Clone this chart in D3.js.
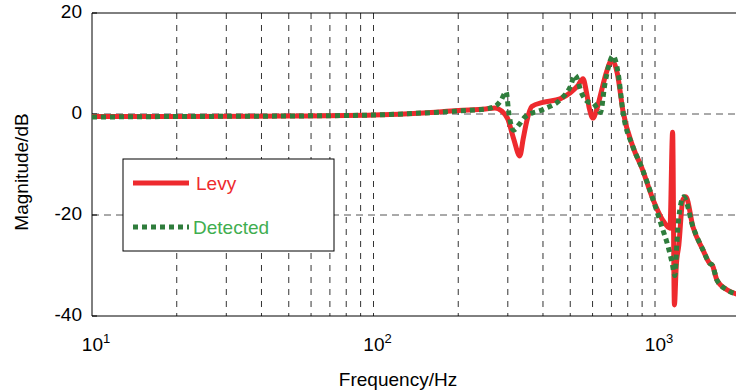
<!DOCTYPE html>
<html lang="en">

<head>
    <meta charset="UTF-8">
    <title>Levy vs Detected</title>
    <script src='https://d3js.org/d3.v7.min.js'></script>
    <style>
        body { margin: 0; background: white; }
        text { font-family: "Liberation Sans", Arial, sans-serif; }
    </style>
</head>

<body>
    <div id="chart"></div>

    <script>
        // frequency (Hz) and magnitude (dB)
        const levyFreq = [10, 20, 50, 100, 150, 200, 250, 270, 285, 300, 315, 331, 340, 350, 365, 400, 460, 500, 530, 555, 570, 585, 602, 620, 645, 670, 703, 735, 770, 835, 900, 985, 1065, 1130, 1155, 1172, 1190, 1215, 1256, 1287, 1365, 1480, 1560, 1600, 1660, 1800, 2000];
        const levyMag = [-0.5, -0.5, -0.4, -0.2, 0.2, 0.7, 1.0, 1.2, 0.6, -1.0, -5, -8.3, -5, -1.5, 1.5, 2.3, 3.0, 4.2, 5.5, 7.0, 4.5, 1.0, -0.8, 0.8, 4.5, 8.0, 10.7, 8.0, 0.5, -6.5, -10.8, -17, -21, -22.6, -3.6, -37.8, -30, -26, -17, -16.4, -22.4, -26.9, -29.5, -30.0, -32.9, -34.8, -35.8];

        const detFreq = [10, 20, 50, 100, 150, 200, 250, 270, 283, 296, 302, 307, 314, 330, 345, 400, 460, 500, 520, 550, 578, 602, 625, 640, 664, 710, 740, 770, 835, 900, 985, 1060, 1110, 1150, 1177, 1195, 1212, 1264, 1365, 1480, 1560, 1600, 1660, 1800, 2000];
        const detMag = [-0.6, -0.5, -0.4, -0.2, 0.2, 0.6, 1.0, 1.5, 2.6, 4.4, 0.5, -1.8, -3.2, -2.0, -0.6, 0.9, 2.8, 5.4, 7.7, 4.0, 2.4, 2.2, 1.0, 0.3, 6.0, 11.5, 8.0, 0.3, -6.5, -10.8, -17, -22.5, -26, -29.5, -32, -26, -21, -16.4, -22.4, -26.9, -29.5, -30.0, -32.9, -34.8, -35.8];

        const yTicks = [20, 0, -20, -40];
        const yGrid = [0, -20];
        const xDecades = [10, 100, 1000];
        const xGrid = [20, 30, 40, 50, 60, 70, 80, 90, 100, 200, 300, 400, 500, 600, 700, 800, 900, 1000];
        const seriesNames = ["Levy", "Detected"];

        var width = 736;
        var height = 392;
        var plotLeft = 92, plotTop = 13, plotBottom = 316;

        const svg = d3.select("#chart").append("svg")
            .attr("width", width)
            .attr("height", height);

        // log x axis; the right part of the plot is cut off by the picture
        const x = d3.scaleLog().domain([10, 2000]).range([plotLeft, plotLeft + 281.5 * Math.log10(200)]);
        const y = d3.scaleLinear().domain([-40, 20]).range([plotBottom, plotTop]);

        // grid lines
        svg.append("g").selectAll("line").data(xGrid).join("line")
            .attr("x1", d => x(d)).attr("x2", d => x(d))
            .attr("y1", plotTop).attr("y2", plotBottom)
            .attr("stroke", "#333").attr("stroke-dasharray", "6,6");
        svg.append("g").selectAll("line").data(yGrid).join("line")
            .attr("x1", plotLeft).attr("x2", width)
            .attr("y1", d => y(d)).attr("y2", d => y(d))
            .attr("stroke", "#555").attr("stroke-dasharray", "7,5");

        // axes frame
        svg.append("line").attr("x1", plotLeft).attr("x2", plotLeft).attr("y1", plotTop).attr("y2", plotBottom).attr("stroke", "black");
        svg.append("line").attr("x1", plotLeft).attr("x2", width).attr("y1", plotBottom).attr("y2", plotBottom).attr("stroke", "black");
        svg.append("line").attr("x1", plotLeft).attr("x2", width).attr("y1", plotTop).attr("y2", plotTop).attr("stroke", "black");

        // y ticks + labels
        svg.append("g").selectAll("line").data(yTicks).join("line")
            .attr("x1", plotLeft).attr("x2", plotLeft + 5)
            .attr("y1", d => y(d)).attr("y2", d => y(d))
            .attr("stroke", "black");
        svg.append("g").selectAll("text").data(yTicks).join("text")
            .attr("x", plotLeft - 10).attr("y", d => y(d) + 5)
            .attr("text-anchor", "end")
            .attr("font-size", 19)
            .text(d => d);

        // x labels as 10^n
        const xl = svg.append("g").selectAll("text").data(xDecades).join("text")
            .attr("x", d => x(d) + 4).attr("y", 351)
            .attr("text-anchor", "middle")
            .attr("font-size", 19);
        xl.append("tspan").text("10");
        xl.append("tspan").attr("font-size", 13).attr("dy", -8).text(d => Math.round(Math.log10(d)));

        // axis titles
        svg.append("text")
            .attr("x", 398).attr("y", 386)
            .attr("text-anchor", "middle")
            .attr("font-size", 19)
            .text("Frequency/Hz");
        svg.append("text")
            .attr("transform", "translate(28,172) rotate(-90)")
            .attr("text-anchor", "middle")
            .attr("font-size", 19)
            .text("Magnitude/dB");

        // curves
        const line = d3.line()
            .x(d => x(d[0]))
            .y(d => y(d[1]))
            .curve(d3.curveMonotoneX);

        svg.append("path")
            .attr("d", line(d3.zip(levyFreq, levyMag)))
            .attr("fill", "none")
            .attr("stroke", "#ee2a2e")
            .attr("stroke-width", 5)
            .attr("stroke-linejoin", "round");

        svg.append("path")
            .attr("d", line(d3.zip(detFreq, detMag)))
            .attr("fill", "none")
            .attr("stroke", "#2f7d3c")
            .attr("stroke-width", 5)
            .attr("stroke-dasharray", "5,4");

        // legend
        const lg = svg.append("g");
        lg.append("rect")
            .attr("x", 123).attr("y", 159)
            .attr("width", 211).attr("height", 92)
            .attr("fill", "white").attr("stroke", "black");
        lg.append("line")
            .attr("x1", 133).attr("x2", 189).attr("y1", 183).attr("y2", 183)
            .attr("stroke", "#ee2a2e").attr("stroke-width", 5);
        lg.append("line")
            .attr("x1", 133).attr("x2", 189).attr("y1", 227).attr("y2", 227)
            .attr("stroke", "#2f7d3c").attr("stroke-width", 5).attr("stroke-dasharray", "5,4");
        lg.append("text")
            .attr("x", 196).attr("y", 190)
            .attr("font-size", 19).attr("fill", "#ee2a2e")
            .text(seriesNames[0]);
        lg.append("text")
            .attr("x", 193).attr("y", 234)
            .attr("font-size", 19).attr("fill", "#3fae4f")
            .text(seriesNames[1]);
    </script>
</body>

</html>
